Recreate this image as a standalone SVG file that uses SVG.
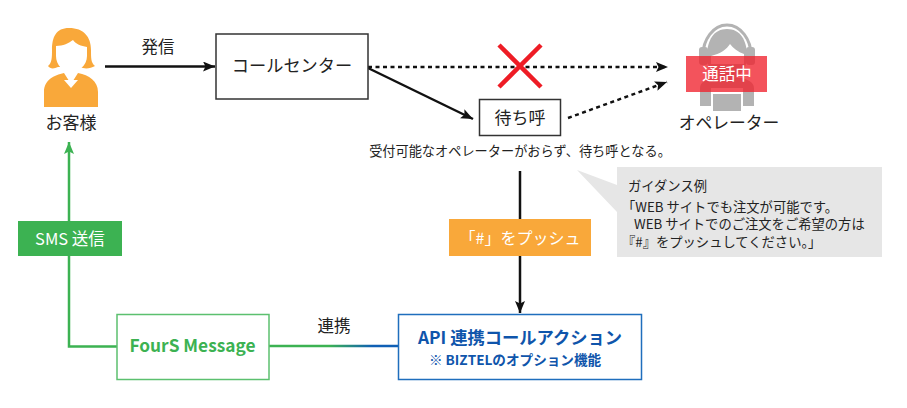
<svg xmlns="http://www.w3.org/2000/svg" width="907" height="408" viewBox="0 0 907 408">
<style>
text{font-family:"Noto Sans CJK JP","Noto Sans",sans-serif;fill:#222}
.c{text-anchor:middle}
.box{fill:#fff;stroke:#333;stroke-width:1.5}
.ln{fill:none;stroke:#111;stroke-width:2.5}
.dot{stroke-dasharray:4 3.5}
.gn{fill:none;stroke:#3cb252;stroke-width:2.5}
.or{fill:#f9a83a}
.gy{fill:#b3b3b3}
</style>
<defs>
<marker id="ah" markerUnits="userSpaceOnUse" markerWidth="14" markerHeight="12" refX="12" refY="5" orient="auto"><path d="M0 0L12 5L0 10L2.5 5Z" fill="#111"/></marker>
<marker id="ag" markerUnits="userSpaceOnUse" markerWidth="14" markerHeight="12" refX="12" refY="5" orient="auto"><path d="M0 0L12 5L0 10L2.5 5Z" fill="#3cb252"/></marker>
<linearGradient id="gb" gradientUnits="userSpaceOnUse" x1="272" y1="0" x2="398" y2="0"><stop offset="0.45" stop-color="#3cb252"/><stop offset="0.8" stop-color="#0f5fb5"/></linearGradient>
</defs>
<g id="connectors">
<path class="ln" d="M105 66.500H215" marker-end="url(#ah)"/>
<path class="ln dot" d="M368 67H668" marker-end="url(#ah)"/>
<path class="ln" d="M368 68L473 119" marker-end="url(#ah)"/>
<path class="ln dot" d="M568 118L667 82" marker-end="url(#ah)"/>
<path class="ln" d="M520 171V313" marker-end="url(#ah)"/>
<path class="gn" d="M117 346.500H69V142" marker-end="url(#ag)"/>
<path d="M269 345.500H398V346.500H269Z" fill="url(#gb)" stroke="url(#gb)" stroke-width="1.500"/>
<text class="c" x="158" y="53" font-size="16.500">発信</text>
<text class="c" x="334" y="332" font-size="16.500">連携</text>
</g>
<g id="customer">
<path class="or" d="M69 28C84 28 91 37 91 50C91 58 91 63 95 66C90 69 84 69 80 67L58 67C54 69 50 69 48 66C52 63 52 57 52 50C52 37 56 28 69 28Z"/>
<path d="M56 46C63 46 69 43 73 40C76 44 81 46 87 47V56C87 66 78 72 71 72C63 72 56 65 56 56Z" fill="#fff"/>
<path class="or" d="M44 107V92C44 80 54 75 64 73L71 84L78 73C89 75 98 81 98 92V107Z"/>
<path d="M64 80H78L71 88Z" fill="#fff"/>
<text class="c" x="71" y="129" font-size="17">お客様</text>
</g>
<g id="callcenter">
<rect class="box" x="216" y="34" width="152" height="65"/>
<text class="c" x="292" y="72" font-size="17.200">コールセンター</text>
</g>
<g id="cross">
<path d="M499 45L541 87M541 45L499 87" stroke="#ee1c25" stroke-width="4.500" fill="none"/>
</g>
<g id="wait">
<rect class="box" x="479.500" y="99.500" width="81" height="36"/>
<text class="c" x="520" y="124" font-size="17">待ち呼</text>
<text class="c" x="520" y="156" font-size="13.200">受付可能なオペレーターがおらず、待ち呼となる。</text>
</g>
<g id="operator">
<path d="M703 55C703 40 713 25 727 25C741 25 751 40 751 55" fill="none" stroke="#b3b3b3" stroke-width="3"/>
<rect class="gy" x="699" y="47" width="9" height="18" rx="3"/>
<rect class="gy" x="746" y="47" width="9" height="18" rx="3"/>
<path class="gy" d="M727 29C740 29 747 40 747 56C747 70 738 80 727 80C716 80 707 70 707 56C707 40 714 29 727 29Z"/>
<path d="M711 56C720 54 727 49 730 44C733 48 738 52 744 54V64H711Z" fill="#fff"/>
<path class="gy" d="M700 106V88C700 82 706 80 712 78H742C748 80 754 82 754 88V106H743V88H711V106Z"/>
<rect class="gy" x="713" y="94" width="28" height="17"/>
<rect x="686" y="56" width="81" height="36" fill="#f0232e" fill-opacity="0.78"/>
<text class="c" x="727" y="80" font-size="16.500" style="fill:#fff">通話中</text>
<text class="c" x="729" y="129" font-size="16.800">オペレーター</text>
</g>
<g id="guidance">
<path d="M617 167H882V257H617V212L577 170L617 185Z" fill="#e6e6e6"/>
<text x="628" y="191" font-size="13.300">ガイダンス例</text>
<text x="622" y="212" font-size="13.300">「WEB サイトでも注文が可能です。</text>
<text x="634" y="229" font-size="13.300">WEB サイトでのご注文をご希望の方は</text>
<text x="622" y="247" font-size="13.300">『#』をプッシュしてください。」</text>
</g>
<g id="sms">
<rect x="18" y="221" width="104" height="35" fill="#3cb252"/>
<text class="c" x="70" y="245" font-size="16.500" style="fill:#fff">SMS 送信</text>
</g>
<g id="push">
<rect class="or" x="449" y="219" width="142" height="37"/>
<text class="c" x="520" y="244" font-size="16" style="fill:#fff">「#」をプッシュ</text>
</g>
<g id="fours">
<rect x="117" y="314.500" width="152" height="65" fill="#fff" stroke="#5cc06f" stroke-width="1.500"/>
<text class="c" x="192.500" y="352" font-size="17.300" font-weight="700" style="fill:#3cb252">FourS Message</text>
</g>
<g id="api">
<rect x="398.500" y="314.500" width="243" height="65" fill="#fff" stroke="#1f6ebd" stroke-width="1.500"/>
<text class="c" x="520" y="344" font-size="17.300" font-weight="700" style="fill:#0f55ab">API 連携コールアクション</text>
<text class="c" x="515" y="365" font-size="13.600" font-weight="700" style="fill:#0f55ab">※ BIZTELのオプション機能</text>
</g>
</svg>
